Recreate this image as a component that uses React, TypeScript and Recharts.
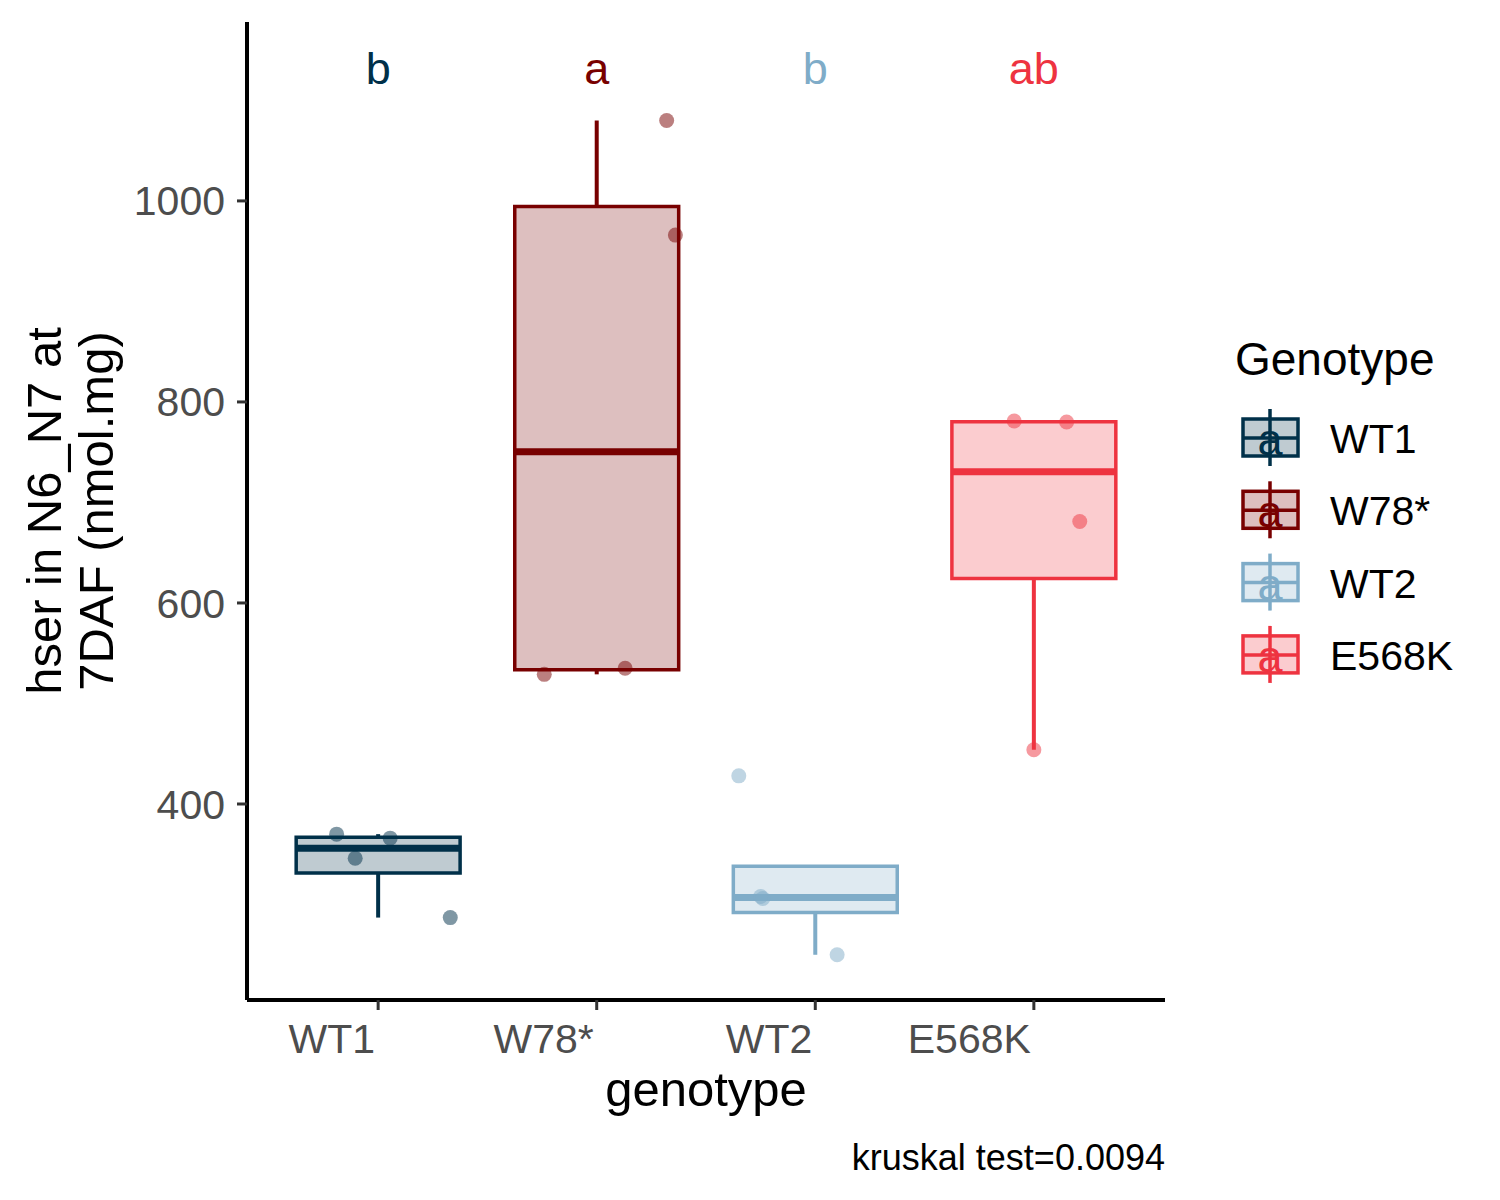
import React from 'react';
import { ComposedChart, XAxis, YAxis, Scatter, ReferenceArea, ReferenceLine, Legend } from 'recharts';

const genotypes = ['WT1', 'W78*', 'WT2', 'E568K'];
const palette = ['#003049', '#780000', '#7FACC8', '#EE3340'];
const letters = ['b', 'a', 'b', 'ab'];
const letterLevel = 1132;

// hser values
const wt1Values = [370, 346, 366, 287];
const w78Values = [1080, 966, 529, 535];
const wt2Values = [428, 308, 306, 250];
const e568kValues = [781, 780, 681, 454];

// horizontal jitter offsets of those points (in category units)
const wt1Jitter = [-0.19, -0.105, 0.055, 0.33];
const w78Jitter = [0.32, 0.36, -0.24, 0.13];
const wt2Jitter = [-0.35, -0.25, -0.24, 0.1];
const e568kJitter = [-0.09, 0.15, 0.21, 0.0];

const yTicks = [400, 600, 800, 1000];
const caption = 'kruskal test=0.0094';

const groupValues = [wt1Values, w78Values, wt2Values, e568kValues];
const groupJitter = [wt1Jitter, w78Jitter, wt2Jitter, e568kJitter];

const FONT = '"Liberation Sans", Arial, sans-serif';
const HALF = 0.375;

const quantile = (s: number[], p: number) => {
  const h = (s.length - 1) * p;
  const lo = Math.floor(h);
  const hi = Math.min(lo + 1, s.length - 1);
  return s[lo] + (h - lo) * (s[hi] - s[lo]);
};

const boxStats = (vals: number[]) => {
  const s = [...vals].sort((a, b) => a - b);
  const q1 = quantile(s, 0.25), med = quantile(s, 0.5), q3 = quantile(s, 0.75);
  const iqr = q3 - q1;
  const inside = s.filter(v => v >= q1 - 1.5 * iqr && v <= q3 + 1.5 * iqr);
  return { q1, med, q3, lo: Math.min(q1, ...inside), hi: Math.max(q3, ...inside) };
};

const stats = groupValues.map(boxStats);

const pointData = groupValues.map((vals, g) =>
  vals.map((v, i) => ({ x: g + 1 + groupJitter[g][i], y: v }))
);
const letterData = letters.map((l, g) => ({ x: g + 1, y: letterLevel, label: l, color: palette[g] }));

const XTick = (props: any) => {
  const { x, y, payload } = props;
  return (
    <text x={x - 3} y={y + 41} textAnchor="end" fill="#4D4D4D" fontSize={41} fontFamily={FONT}>
      {genotypes[payload.value - 1]}
    </text>
  );
};

const YTitle = (props: any) => {
  const vb = props.viewBox || { y: 22, height: 978 };
  const cy = vb.y + vb.height / 2;
  return (
    <g fontFamily={FONT} fontSize={49} fill="#000">
      <text x={61} y={cy} textAnchor="middle" transform={`rotate(-90, 61, ${cy})`}>hser in N6_N7 at</text>
      <text x={113} y={cy} textAnchor="middle" transform={`rotate(-90, 113, ${cy})`}>7DAF (nmol.mg)</text>
    </g>
  );
};

const XTitle = (props: any) => {
  const vb = props.viewBox || { x: 247, y: 1000, width: 918 };
  return (
    <g fontFamily={FONT} fill="#000">
      <text x={vb.x + vb.width / 2} y={vb.y + 106} textAnchor="middle" fontSize={49}>genotype</text>
      <text x={vb.x + vb.width} y={vb.y + 170} textAnchor="end" fontSize={36}>{caption}</text>
    </g>
  );
};

const LegendContent = () => (
  <svg width={270} height={380} style={{ display: 'block' }}>
    <text x={15} y={55} fontFamily={FONT} fontSize={46} fill="#000">Genotype</text>
    {genotypes.map((g, i) => {
      const cy = 118 + i * 72.3;
      const c = palette[i];
      return (
        <g key={g}>
          <line x1={50} x2={50} y1={cy - 29} y2={cy + 28} stroke={c} strokeWidth={3.5} />
          <rect x={23} y={cy - 19} width={55} height={37} fill={c} fillOpacity={0.25} stroke={c} strokeWidth={3.5} />
          <line x1={23} x2={78} y1={cy} y2={cy} stroke={c} strokeWidth={3.5} />
          <text x={50} y={cy + 17} textAnchor="middle" fontFamily={FONT} fontSize={45} fill={c}>a</text>
          <text x={110} y={cy + 15} fontFamily={FONT} fontSize={41} fill="#000">{g}</text>
        </g>
      );
    })}
  </svg>
);

export default function App() {
  return (
    <div style={{ position: 'absolute', left: 0, top: 0, width: 1500, height: 1200, background: '#fff' }}>
      <ComposedChart width={1500} height={1200} margin={{ top: 22, right: 65, bottom: 0, left: 0 }}>
        <XAxis
          dataKey="x"
          type="number"
          domain={[0.4, 4.6]}
          ticks={[1, 2, 3, 4]}
          allowDataOverflow
          height={200}
          tick={<XTick />}
          tickSize={10}
          tickLine={{ stroke: '#333', strokeWidth: 3 }}
          axisLine={{ stroke: '#000', strokeWidth: 4 }}
          label={XTitle}
        />
        <YAxis
          dataKey="y"
          type="number"
          domain={[205, 1178]}
          ticks={yTicks}
          allowDataOverflow
          width={247}
          tickSize={10}
          tickMargin={12}
          tick={{ fill: '#4D4D4D', fontSize: 41, fontFamily: FONT }}
          tickLine={{ stroke: '#333', strokeWidth: 3 }}
          axisLine={{ stroke: '#000', strokeWidth: 4 }}
          label={YTitle}
        />
        <Legend
          layout="vertical"
          align="right"
          verticalAlign="top"
          content={LegendContent}
          wrapperStyle={{ left: 1220, top: 320, width: 270, height: 380 }}
        />
        {stats.map((s, g) => (
          <ReferenceLine key={`wl${g}`} segment={[{ x: g + 1, y: s.lo }, { x: g + 1, y: s.q1 }]} stroke={palette[g]} strokeWidth={4} />
        ))}
        {stats.map((s, g) => (
          <ReferenceLine key={`wh${g}`} segment={[{ x: g + 1, y: s.q3 }, { x: g + 1, y: s.hi }]} stroke={palette[g]} strokeWidth={4} />
        ))}
        {stats.map((s, g) => (
          <ReferenceArea
            key={`b${g}`}
            x1={g + 1 - HALF}
            x2={g + 1 + HALF}
            y1={s.q1}
            y2={s.q3}
            fill={palette[g]}
            fillOpacity={0.25}
            stroke={palette[g]}
            strokeOpacity={1}
            strokeWidth={3.5}
          />
        ))}
        {stats.map((s, g) => (
          <ReferenceLine key={`m${g}`} segment={[{ x: g + 1 - HALF, y: s.med }, { x: g + 1 + HALF, y: s.med }]} stroke={palette[g]} strokeWidth={7} />
        ))}
        {pointData.map((pts, g) => (
          <Scatter
            key={`p${g}`}
            data={pts}
            isAnimationActive={false}
            shape={(p: any) => <circle cx={p.cx} cy={p.cy} r={7.5} fill={palette[g]} fillOpacity={0.5} />}
          />
        ))}
        <Scatter
          data={letterData}
          isAnimationActive={false}
          shape={(p: any) => (
            <text x={p.cx} y={p.cy} dy={16} textAnchor="middle" fontFamily={FONT} fontSize={45} fill={p.payload.color}>
              {p.payload.label}
            </text>
          )}
        />
      </ComposedChart>
    </div>
  );
}
